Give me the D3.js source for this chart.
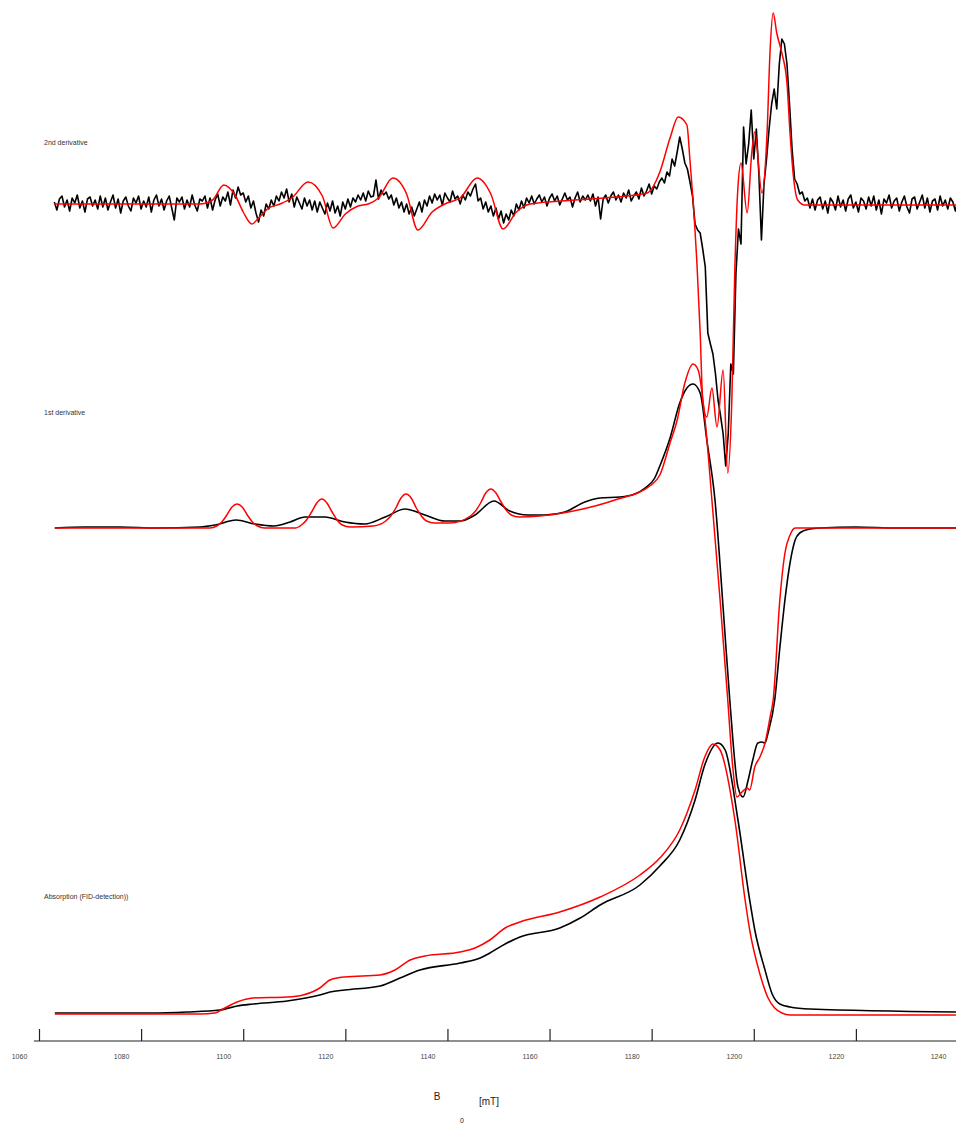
<!DOCTYPE html>
<html>
<head>
<meta charset="utf-8">
<script src="https://cdn.jsdelivr.net/npm/d3@7"></script>
<style>
  body { margin: 0; background: #fff; }
  svg { display: block; font-family: "Liberation Sans", Arial, sans-serif; }
</style>
</head>
<body>
<div id="chart"></div>
<script>
// Field axis ticks [mT]
const tickValues = [1060, 1080, 1100, 1120, 1140, 1160, 1180, 1200, 1220, 1240];

// Panel titles
const panelTitles = ["2nd derivative", "1st derivative", "Absorption (FID-detection))"];

// 2nd derivative, experiment: sampled every 0.5 mT starting at 1063 mT (a.u.)
const d2ExpStart = 1063, d2ExpStep = 0.5;
const d2Exp = [
  2, -6, 5, 8, -3, 4, -7, 6, 1, 9,            // 1063
  -4, 3, -8, 5, 7, -2, 4, -5, 8, -3,          // 1068
  6, -6, 2, 9, -4, 5, -9, 3, 7, -2,           // 1073
  -7, 6, 1, 8, -5, 3, -3, 7, -8, 4,           // 1078
  9, -2, 5, -6, 3, 8, -4, -16, 6, 2,          // 1083
  7, -5, 4, -3, 9, -1, -7, 5, 3, 8,           // 1088
  -4, 6, -6, 4, 10, -2, 7, 3, 12, -1,         // 1093
  14, 6, 17, 9, 11, 2, 8, -4, 3, -9,          // 1098
  -18, -6, -12, 0, -5, 4, -2, 8, 3, 12,       // 1103
  6, 15, 2, 10, -3, 7, 1, -5, 6, -2,          // 1108
  4, -6, 3, -8, 2, -4, -10, 1, -7, 3,         // 1113
  -9, -2, -12, 2, -5, 5, -3, 6, 2, 9,         // 1118
  4, 11, 3, 13, 7, 8, 24, 5, 14, 9,           // 1123
  12, 5, 9, -1, 6, -4, 2, -8, 0, -10,         // 1128
  -3, -12, -5, 2, -8, 4, -2, 8, 1, 10,        // 1133
  4, 9, -1, 11, 6, 2, 13, 5, 8, 0,            // 1138
  9, 4, 12, 8, 15, 20, 3, 6, -5, 2,           // 1143
  -8, -2, -12, -4, -15, -7, -19, -10, -16, -6, // 1148
  -12, 0, -6, 3, -4, 6, 1, 8, 0, 5,           // 1153
  9, 2, 7, -2, 6, 10, 3, 8, -1, 5,            // 1158
  11, 4, 7, -3, 6, 12, 2, 8, 4, 9,            // 1163
  3, 10, -2, 7, -15, 5, 9, 1, 8, 12,          // 1168
  4, 9, 2, 11, 6, 14, 3, 8, 12, 5,            // 1173
  16, 8, 13, 20, 10, 18, 15, 22, 26, 21,      // 1178
  32, 28, 45, 38, 52, 67, 55, 41, 35, 22,     // 1183
  8, -20, -26, -29, -45, -63, -129, -140, -150, -170, // 1188
  -196, -212, -230, -262, -230, -160, -170, -70, -25, -40, // 1193
  77, 40, 60, 94, 45, 75, 30, -36, 20, 45,    // 1198
  75, 100, 115, 95, 140, 165, 160, 140, 100, 55, // 1203
  25, 20, 10, 12, 3, 6, -4, 5, -6, 4,         // 1208
  7, -5, 3, -9, 6, 2, -6, 8, -3, 4,           // 1213
  -7, 5, 9, -4, 2, -8, 6, 3, -5, 7,           // 1218
  -2, 8, -6, 4, -10, 5, 1, 9, -4, 3,          // 1223
  6, -7, 2, 8, -3, -9, 5, 7, -5, 2,           // 1228
  9, -4, 6, -8, 3, 5, -6, 8, -2, 4,           // 1233
  -5, 6, 2, -7, 5                             // 1238
];

// 2nd derivative, simulation [mT, a.u.]
const d2Sim = [
  [1063, 0], [1091.5, 0], [1094, 4], [1096.2, 19], [1098.5, 8], [1100, -8], [1101.7, -20],
  [1103, -14], [1105, -4], [1107.2, 0], [1109.5, 6], [1112.7, 22], [1115.5, 8], [1117.6, -24],
  [1120, -10], [1122.5, -2], [1124.5, 0], [1126.5, 6], [1129.3, 26], [1132, 10], [1134.2, -26],
  [1137, -8], [1139.9, 1], [1142.5, 6], [1145.8, 26], [1148.5, 10], [1150.9, -25], [1153.5, -8],
  [1156.2, 0], [1165, 4], [1175, 8], [1179.1, 11], [1181.6, 32], [1183.6, 66], [1185.2, 87],
  [1186.9, 79], [1187.5, 44], [1188.1, 4], [1188.9, -63], [1189.5, -129], [1190.0, -196],
  [1190.8, -213], [1191.8, -184], [1192.8, -223], [1194.0, -166], [1194.9, -269], [1195.7, -196],
  [1196.3, -63], [1196.9, 17], [1197.5, 41], [1198.7, -9], [1199.6, 51], [1200.2, 72],
  [1201.6, 11], [1202.6, 71], [1203.2, 154], [1203.8, 191], [1204.5, 171], [1205.5, 151],
  [1206.5, 121], [1207.1, 71], [1207.7, 31], [1208.6, 4], [1210, -1], [1239.6, -1]
];

// 1st derivative, experiment [mT, a.u.]
const d1Exp = [
  [1063.1, 0], [1069, 1], [1075.9, 1], [1083, 0], [1091.5, 1], [1094.5, 3], [1098.6, 8],
  [1102.3, 4], [1106.0, 2], [1109.2, 6], [1112.1, 11], [1116.0, 11], [1119.9, 6], [1123.8, 4],
  [1127.8, 11], [1131.7, 19], [1135.6, 13], [1139.5, 7], [1142.5, 7], [1145.4, 13], [1149.1, 27],
  [1152.2, 17], [1155.8, 13], [1159.1, 13], [1163.0, 16], [1166.9, 26], [1169.9, 30],
  [1173.8, 31], [1176.7, 34], [1178.7, 40], [1180.6, 50], [1181.6, 62], [1183.6, 90],
  [1185.5, 125], [1186.9, 140], [1188.1, 144], [1189.5, 135], [1190.8, 88], [1192.4, 28],
  [1194.0, -80], [1195.3, -172], [1196.9, -259], [1197.9, -269], [1198.9, -252], [1199.8, -232],
  [1200.8, -215], [1201.6, -214], [1202.2, -215], [1202.8, -205], [1204.1, -172], [1205.1, -120],
  [1206.1, -72], [1207.1, -35], [1208.1, -12], [1209.0, -5], [1211.0, -1], [1213.0, 0],
  [1220, 1], [1228, 0], [1239.6, 0]
];

// 1st derivative, simulation [mT, a.u.]
const d1Sim = [
  [1063.1, 0], [1093.5, 0], [1094.8, 2], [1095.8, 6], [1096.8, 13], [1097.8, 21], [1098.8, 24],
  [1099.8, 21], [1100.8, 13], [1101.8, 6], [1102.8, 2], [1104.2, 0], [1110.2, 0], [1111.4, 3],
  [1112.4, 8], [1113.4, 16], [1114.4, 25], [1115.4, 29], [1116.4, 25], [1117.4, 16], [1118.4, 8],
  [1119.4, 3], [1121.0, 1], [1125.5, 2], [1127.9, 7], [1128.9, 12], [1129.9, 20], [1130.9, 30],
  [1131.9, 34], [1132.9, 30], [1133.9, 20], [1134.9, 12], [1135.9, 7], [1137.5, 5], [1140.5, 5],
  [1144.5, 12], [1145.5, 17], [1146.5, 25], [1147.5, 35], [1148.5, 39], [1149.5, 35], [1150.5, 26],
  [1151.5, 18], [1152.5, 13], [1154.0, 11], [1158.1, 12],
  [1165.6, 18], [1172.8, 28], [1179.9, 43], [1181.6, 53], [1183.6, 85], [1185.0, 108],
  [1186.5, 145], [1188.1, 164], [1189.1, 158], [1190.4, 111], [1191.8, 28], [1193.4, -72],
  [1194.9, -172], [1195.9, -240], [1196.7, -269], [1197.7, -264], [1198.7, -260], [1199.2, -262],
  [1200.2, -239], [1201.2, -229], [1202.2, -215], [1203.2, -189], [1203.8, -172], [1205.1, -72],
  [1206.1, -25], [1207.1, -7], [1208.1, 0], [1239.6, 0]
];

// Absorption, experiment [mT, a.u.]
const absExp = [
  [1063.1, 1], [1081.7, 1], [1089.0, 2], [1095.4, 4], [1098.8, 8], [1101.9, 10], [1108.6, 13],
  [1115.0, 19], [1117.0, 22], [1119.9, 24], [1126.8, 28], [1130.7, 36], [1134.6, 44],
  [1142.5, 51], [1146.4, 56], [1148.3, 61], [1151.3, 70], [1154.2, 77], [1162.0, 86],
  [1166.0, 96], [1169.9, 109], [1177.7, 129], [1181.6, 148], [1185.5, 174], [1188.5, 214],
  [1190.4, 249], [1193.0, 271], [1194.4, 264], [1196.9, 194], [1199.2, 114], [1200.2, 84],
  [1202.2, 44], [1203.6, 20], [1205.1, 10], [1207.1, 7], [1211.0, 5], [1239.6, 2]
];

// Absorption, simulation [mT, a.u.]
const absSim = [
  [1063.1, 0], [1091.5, 0], [1094.5, 1], [1096.4, 6], [1098.8, 12], [1101.9, 16], [1108.6, 17],
  [1111.7, 19], [1115.0, 26], [1117.0, 34], [1119.9, 37], [1126.8, 39], [1129.7, 44],
  [1132.7, 54], [1135.6, 58], [1142.5, 62], [1145.4, 66], [1148.3, 74], [1151.3, 86],
  [1154.2, 92], [1162.0, 102], [1169.9, 117], [1177.7, 139], [1181.6, 156], [1185.5, 184],
  [1188.5, 224], [1190.4, 257], [1192.0, 270], [1193.4, 264], [1196.3, 194], [1198.3, 114],
  [1199.2, 84], [1201.2, 40], [1202.8, 16], [1204.1, 6], [1205.5, 1], [1207.1, -1], [1239.6, -1]
];

// Layout
const width = 956, height = 1124;
const svg = d3.select("#chart").append("svg")
    .attr("width", width)
    .attr("height", height);

const x = d3.scaleLinear().domain([1060, 1240]).range([39, 958]);

// one vertical scale per panel, zero at the panel baseline
const panels = [
    { title: panelTitles[0], base: 204, titleY: 145, exp: d2Exp.map((v, i) => [d2ExpStart + i * d2ExpStep, v]), sim: d2Sim, smoothExp: false },
    { title: panelTitles[1], base: 528, titleY: 415, exp: d1Exp, sim: d1Sim, smoothExp: true },
    { title: panelTitles[2], base: 1014, titleY: 899, exp: absExp, sim: absSim, smoothExp: true }
];

panels.forEach(p => {
    p.y = d3.scaleLinear().domain([0, 100]).range([p.base, p.base - 100]);
});

// panel titles
svg.selectAll(".panel-title")
    .data(panels)
    .enter().append("text")
    .attr("class", "panel-title")
    .attr("x", 44)
    .attr("y", d => d.titleY)
    .style("font-size", "7px")
    .style("fill", "#333")
    .text(d => d.title);

// experimental traces (black)
panels.forEach(p => {
    const line = d3.line()
        .x(d => x(d[0]))
        .y(d => p.y(d[1]))
        .curve(p.smoothExp ? d3.curveMonotoneX : d3.curveLinear);
    svg.append("path")
        .datum(p.exp)
        .attr("d", line)
        .attr("fill", "none")
        .attr("stroke", "#000")
        .attr("stroke-width", 1.6)
        .attr("stroke-linejoin", "round");
});

// simulations (red)
panels.forEach(p => {
    const line = d3.line()
        .x(d => x(d[0]))
        .y(d => p.y(d[1]))
        .curve(d3.curveMonotoneX);
    svg.append("path")
        .datum(p.sim)
        .attr("d", line)
        .attr("fill", "none")
        .attr("stroke", "#ff0000")
        .attr("stroke-width", 1.5);
});

// x axis: ticks point upwards, labels sit slightly left of their ticks
const axisY = 1041;
const axis = svg.append("g")
    .attr("transform", `translate(0, ${axisY})`)
    .call(d3.axisBottom(x)
        .tickValues(tickValues)
        .tickFormat(d3.format("d"))
        .tickSizeInner(-12)
        .tickSizeOuter(0)
        .tickPadding(13));

axis.select(".domain").remove();
axis.append("line")
    .attr("x1", x(1059))
    .attr("x2", width)
    .attr("stroke", "#222")
    .attr("stroke-width", 1.2);
axis.selectAll(".tick line").attr("stroke", "#222").attr("stroke-width", 1.2);
axis.selectAll(".tick text")
    .attr("dx", -20)
    .style("font-size", "7px")
    .style("font-family", "'Liberation Sans', Arial, sans-serif")
    .style("fill", "#444");

// axis title B0 [mT]
const axisTitle = svg.append("g");
axisTitle.append("text")
    .attr("x", 437)
    .attr("y", 1100)
    .attr("text-anchor", "middle")
    .style("font-size", "10px")
    .style("fill", "#222")
    .text("B");
axisTitle.append("text")
    .attr("x", 462)
    .attr("y", 1123)
    .attr("text-anchor", "middle")
    .style("font-size", "7px")
    .style("fill", "#222")
    .text("0");
axisTitle.append("text")
    .attr("x", 479)
    .attr("y", 1105)
    .style("font-size", "10px")
    .style("fill", "#222")
    .text("[mT]");
</script>
</body>
</html>
